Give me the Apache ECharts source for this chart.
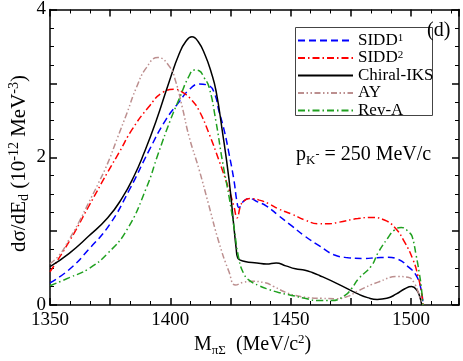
<!DOCTYPE html>
<html><head><meta charset="utf-8">
<script src="https://cdn.jsdelivr.net/npm/echarts@6/dist/echarts.min.js"></script>
<style>html,body{margin:0;padding:0;background:#fff}#c{width:463px;height:361px}</style>
</head><body><div id="c"></div>
<script>
// ---- data ----
const xTicks = [1350, 1400, 1450, 1500];
const yTicks = [0, 2, 4];
const seriesNames = ['SIDD1', 'SIDD2', 'Chiral-IKS', 'AY', 'Rev-A'];

const sidd1X = [1350,1358,1366,1374.8,1383,1391.3,1398,1403.7,1408,1412,1416,1418.5,1420.2,1422.5,1424.4,1426.4,1427.8,1428.5,1430.6,1433,1436,1440,1445,1450.5,1456,1462,1468,1474,1480,1486,1490,1494.6,1498.8,1502.2,1504.3,1505];
const sidd1Y = [0.30,0.48,0.75,1.09,1.56,2.10,2.50,2.75,2.92,2.99,2.97,2.85,2.63,2.35,2.05,1.70,1.38,1.32,1.41,1.44,1.40,1.34,1.21,1.07,0.93,0.80,0.68,0.64,0.63,0.64,0.645,0.62,0.52,0.40,0.20,0.0];

const sidd2X = [1350,1358,1366,1374,1379,1384,1391,1397,1402,1405.5,1409,1412,1416.1,1420.2,1424.4,1426.4,1427.8,1429.2,1430.6,1433.3,1437,1441,1445,1450.5,1456,1461.6,1466,1470,1478,1483.6,1489,1493.3,1497.4,1500.8,1502.9,1504.5,1505];
const sidd2Y = [0.45,0.86,1.33,1.80,2.08,2.37,2.68,2.88,2.92,2.87,2.77,2.63,2.32,1.96,1.56,1.34,1.18,1.34,1.41,1.44,1.42,1.37,1.30,1.23,1.15,1.10,1.10,1.12,1.17,1.185,1.15,1.05,0.85,0.62,0.40,0.15,0.0];

const iksX = [1350,1358,1366,1374,1380,1385,1389,1394,1399.5,1403.7,1406.5,1409,1411.5,1414.5,1417,1419,1421.6,1424.4,1426.4,1427.4,1428,1431,1436,1440,1444,1448,1452,1456,1459,1462,1470,1478,1482,1486,1490,1494,1497.5,1500.3,1502.5,1503.8,1504.5];
const iksY = [0.52,0.70,0.93,1.18,1.45,1.75,2.05,2.48,3.02,3.40,3.57,3.63,3.57,3.38,3.15,2.90,2.36,1.70,1.07,0.76,0.64,0.59,0.57,0.555,0.57,0.53,0.49,0.47,0.44,0.40,0.28,0.15,0.10,0.075,0.09,0.15,0.22,0.25,0.20,0.10,0.0];

const ayX = [1350,1354,1358,1362,1366,1370,1374,1378,1382,1386,1390,1394.8,1399.6,1402.3,1405.1,1407.8,1412,1416.1,1420.2,1424.4,1427.1,1430.6,1434,1439.5,1443,1448,1452,1457.4,1463,1469,1474,1478,1486.4,1494.6,1498.8,1501.5,1503.6,1505];
const ayY = [0.56,0.68,0.89,1.12,1.38,1.64,1.92,2.26,2.60,2.95,3.21,3.35,3.23,3.02,2.66,2.28,1.83,1.34,0.85,0.45,0.27,0.31,0.32,0.30,0.25,0.17,0.13,0.10,0.09,0.085,0.12,0.19,0.31,0.385,0.375,0.29,0.12,0.0];

const revAX = [1350,1358,1366,1374,1382,1390,1395,1400,1403.7,1407.8,1410,1412,1414,1416.1,1418.9,1421.6,1424.4,1426.4,1428.5,1430.6,1433,1437,1441,1445,1450.5,1456,1461.6,1467,1472.6,1475.3,1478.1,1483.6,1486.4,1490.5,1493,1496,1499.4,1500.5,1502.2,1503.5,1504.3,1505];
const revAY = [0.26,0.37,0.49,0.70,1.02,1.58,2.05,2.50,2.79,3.10,3.18,3.17,3.08,2.95,2.50,1.96,1.47,1.07,0.625,0.42,0.33,0.26,0.21,0.17,0.13,0.09,0.06,0.06,0.13,0.22,0.35,0.53,0.71,0.91,1.01,1.05,0.98,0.93,0.67,0.43,0.25,0.0];

// ---- chart ----
const pair = (xs, ys) => xs.map((x, i) => [x, ys[i]]);
const FONT = 'Liberation Serif';
const chart = echarts.init(document.getElementById('c'), null, {renderer: 'canvas'});

function mkSeries(name, xs, ys, color, type) {
  return {
    name, type: 'line', data: pair(xs, ys), xAxisIndex: 0, yAxisIndex: 0,
    symbol: 'none', smooth: 0.5, silent: true, animation: false,
    lineStyle: {color, width: 1.5, type}, itemStyle: {color}
  };
}

const axLine = {show: true, onZero: false, lineStyle: {color: '#000', width: 1.5}};
const axTick = {show: true, inside: true, length: 7, lineStyle: {color: '#000', width: 1.5}};
const mTick = n => ({show: true, splitNumber: n, length: 4, lineStyle: {color: '#000', width: 1}});

const legendLabels = {
  'SIDD1': '{a|SIDD}{sup|1}', 'SIDD2': '{a|SIDD}{sup|2}',
  'Chiral-IKS': '{a|Chiral-IKS}', 'AY': '{a|AY}', 'Rev-A': '{a|Rev-A}'
};

const rt = {
  a: {fontFamily: FONT, fontSize: 20, lineHeight: 24, verticalAlign: 'middle', color: '#000'},
  sub: {fontFamily: FONT, fontSize: 13, lineHeight: 13, verticalAlign: 'bottom', color: '#000'},
  sup: {fontFamily: FONT, fontSize: 13, lineHeight: 13, verticalAlign: 'top', color: '#000'}
};

chart.setOption({
  animation: false,
  grid: {left: 50, right: 4, top: 7, bottom: 56},
  xAxis: [
    {type: 'value', min: 1350, max: 1520, interval: 25, position: 'bottom',
      axisLine: axLine, axisTick: axTick, minorTick: mTick(3), splitLine: {show: false},
      axisLabel: {color: '#000', fontFamily: FONT, fontSize: 19, margin: 6,
        formatter: v => xTicks.includes(v) ? String(v) : ''}},
    {type: 'value', min: 1350, max: 1520, interval: 25, position: 'top',
      axisLine: axLine, axisTick: axTick, minorTick: mTick(3), splitLine: {show: false},
      axisLabel: {show: false}}
  ],
  yAxis: [
    {type: 'value', min: 0, max: 4, interval: 1, position: 'left',
      axisLine: axLine, axisTick: axTick, minorTick: mTick(4), splitLine: {show: false},
      axisLabel: {color: '#000', fontFamily: FONT, fontSize: 19, margin: 4,
        formatter: v => yTicks.includes(v) ? String(v) : ''}},
    {type: 'value', min: 0, max: 4, interval: 1, position: 'right',
      axisLine: axLine, axisTick: axTick, minorTick: mTick(4), splitLine: {show: false},
      axisLabel: {show: false}}
  ],
  legend: {
    orient: 'vertical', left: 297, top: 32, itemWidth: 55, itemHeight: 12, itemGap: 0.5,
    padding: 0, selectedMode: false,
    itemStyle: {opacity: 0, borderWidth: 0},
    data: seriesNames,
    formatter: n => legendLabels[n],
    textStyle: {color: '#000', fontFamily: FONT, fontSize: 17,
      rich: {a: {fontFamily: FONT, fontSize: 17, lineHeight: 16, color: '#000'},
             sup: {fontFamily: FONT, fontSize: 11, color: '#000', verticalAlign: 'top', lineHeight: 16}}}
  },
  series: [
    mkSeries('SIDD1', sidd1X, sidd1Y, '#0000ff', [7, 4]),
    mkSeries('SIDD2', sidd2X, sidd2Y, '#ff0000', [7, 3, 1.5, 3]),
    mkSeries('Chiral-IKS', iksX, iksY, '#000000', 'solid'),
    mkSeries('AY', ayX, ayY, '#bc8f8f', [6, 2.5, 1.5, 2.5, 1.5, 2.5]),
    mkSeries('Rev-A', revAX, revAY, '#1fa01f', [7, 3, 1.5, 3])
  ],
  graphic: [
    {type: 'rect', shape: {x: 295.5, y: 27.5, width: 137, height: 88},
      style: {fill: 'none', stroke: '#444', lineWidth: 1}, z: 1},
    {type: 'text', left: 427, top: 21, z: 10,
      style: {text: '(d)', font: '20px "Liberation Serif"', fill: '#000'}},
    {type: 'text', left: 296, top: 145, z: 10,
      style: {text: '{a|p}{sub|K}{sp|-}{a| = 250 MeV/c}',
        rich: {a: rt.a, sub: rt.sub,
               sp: {fontFamily: FONT, fontSize: 12, lineHeight: 12, verticalAlign: 'middle', color: '#000'}}}},
    {type: 'text', left: 194, top: 333, z: 10,
      style: {text: '{a|M}{sub|πΣ}{a|  (MeV/c}{sup|2}{a|)}', rich: rt}},
    {type: 'text', x: 7, y: 252, rotation: Math.PI / 2, z: 10,
      style: {text: '{a|dσ/dE}{sub|d}{a| (10}{sup|-12}{a| MeV}{sup|-3}{a|)}',
        rich: {a: Object.assign({}, rt.a, {fontSize: 21}),
               sub: Object.assign({}, rt.sub, {fontSize: 14}),
               sup: Object.assign({}, rt.sup, {fontSize: 14})}}}
  ]
});
</script></body></html>
